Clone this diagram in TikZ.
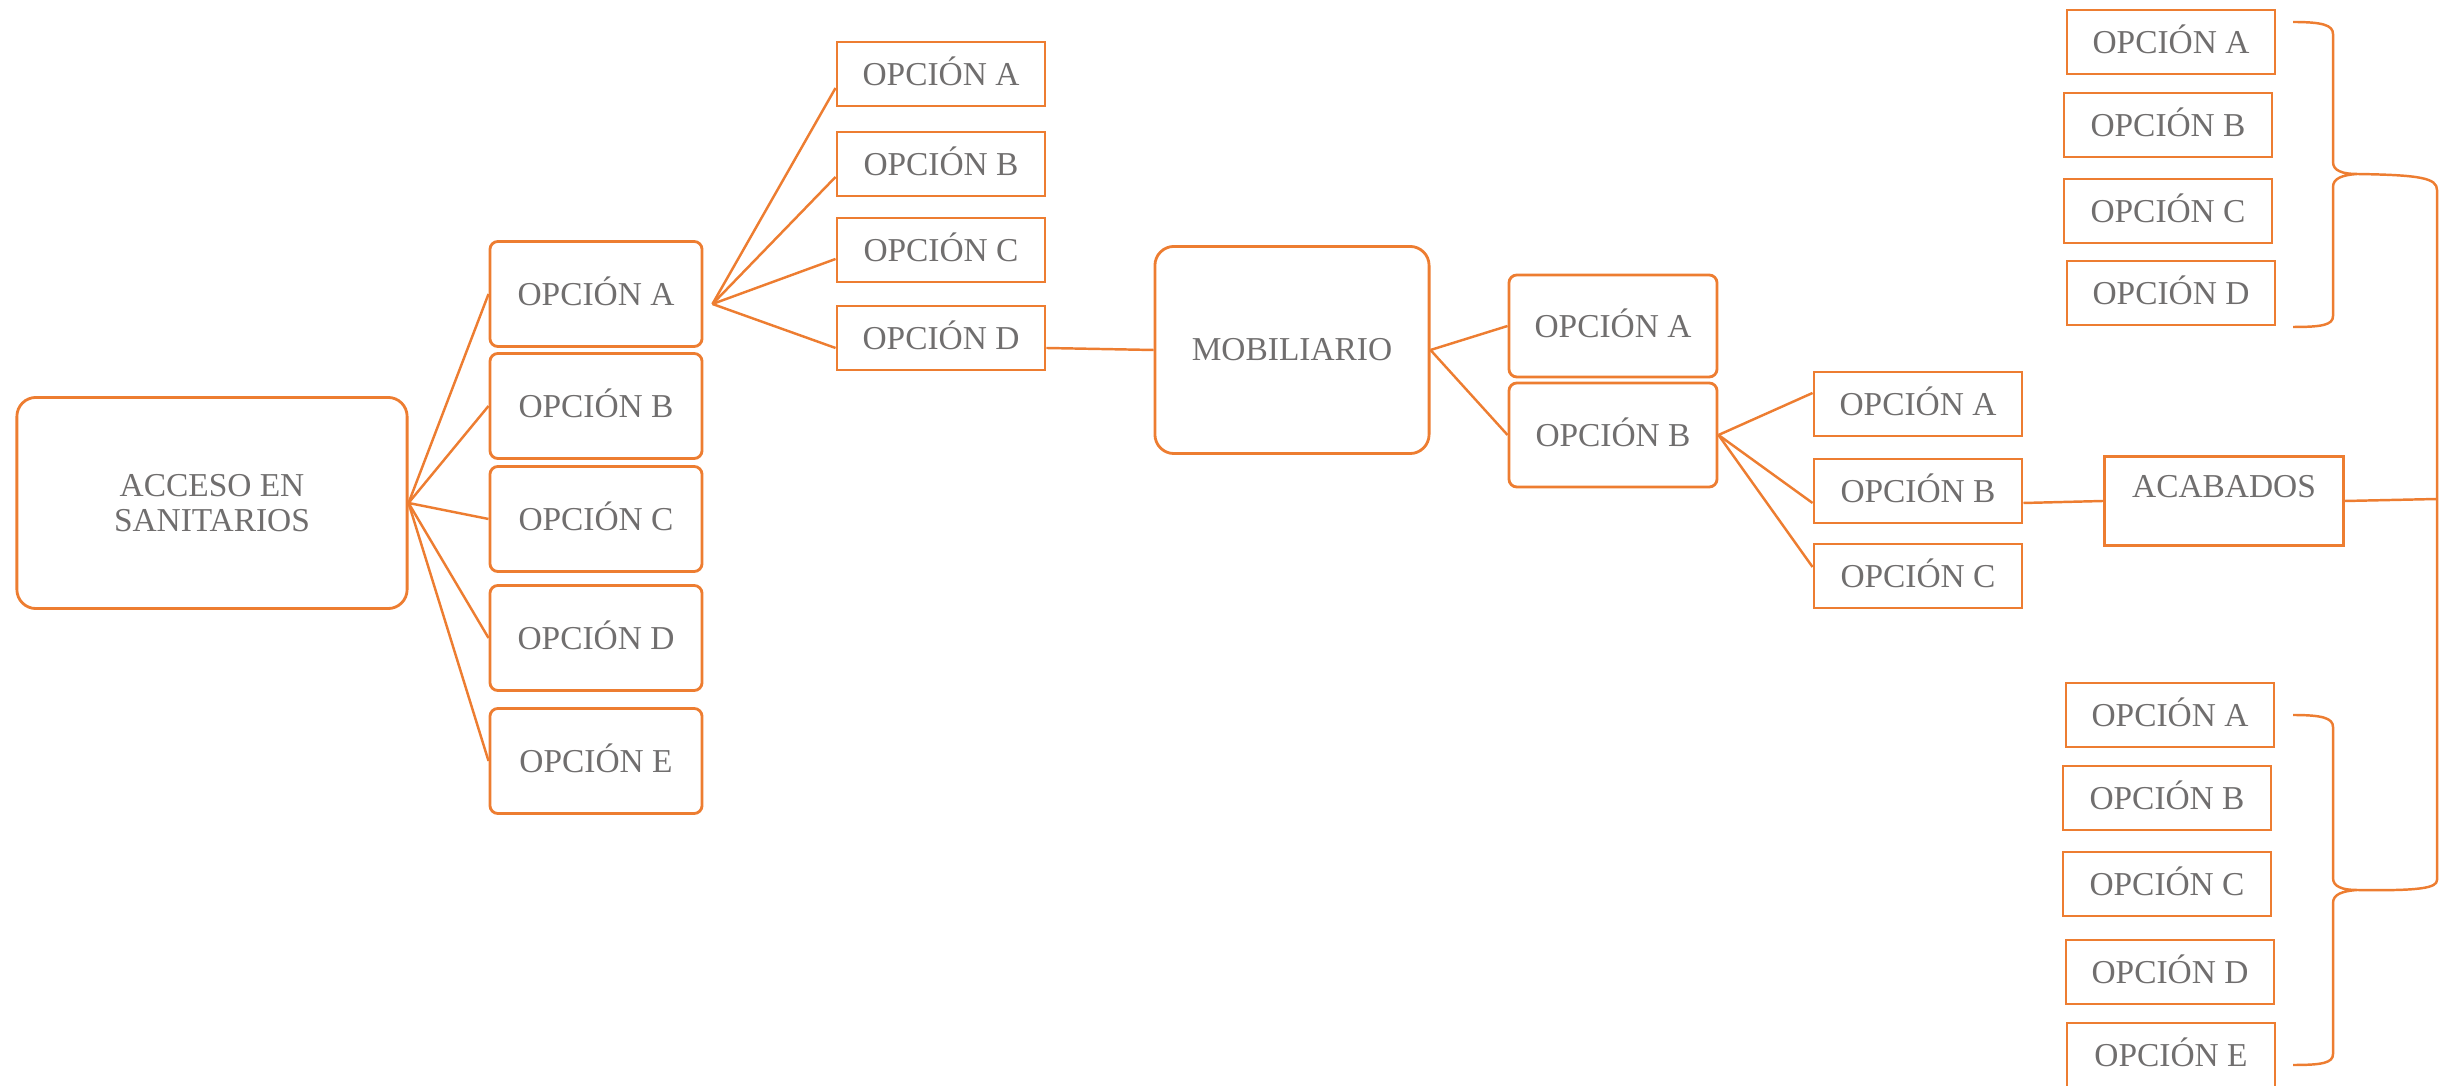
\documentclass[tikz,border=0pt]{standalone}
\usepackage{fontspec}
\setmainfont{Liberation Serif}
\usetikzlibrary{positioning}
\definecolor{accent}{RGB}{237,125,49}
\definecolor{txtgray}{RGB}{112,110,110}
\tikzset{
  link/.style={draw=accent, line width=0.7pt},
  mainbox/.style={draw=accent, line width=0.8pt, rounded corners=1.9mm, text=txtgray, align=center, inner sep=2pt},
  optround/.style={draw=accent, line width=0.8pt, rounded corners=0.8mm, text=txtgray, minimum width=2.12cm, text height=6.3pt, text depth=0pt, inner sep=2pt},
  optbox/.style={draw=accent, line width=0.8pt, text=txtgray, minimum width=2.08cm, minimum height=0.64cm, text height=6.3pt, text depth=0pt, inner sep=2pt}
}

\begin{document}
\begin{tikzpicture}[x=0.01cm, y=-0.01cm, every node/.style={font=\fontsize{9.5}{10}\selectfont}]
  \useasboundingbox (0,0) rectangle (2454,1086);
  % main topic
  \node[mainbox, minimum width=3.9cm, minimum height=2.11cm] (acceso) at (212,503) {ACCESO EN\\SANITARIOS};
  % first level
  \node[optround, minimum height=1.05cm] (a1) at (596,294) {OPCIÓN A};
  \node[optround, minimum height=1.05cm] (a2) at (596,406) {OPCIÓN B};
  \node[optround, minimum height=1.05cm] (a3) at (596,519) {OPCIÓN C};
  \node[optround, minimum height=1.05cm] (a4) at (596,638) {OPCIÓN D};
  \node[optround, minimum height=1.05cm] (a5) at (596,761) {OPCIÓN E};
  % options of A
  \node[optbox] (b1) at (941,74) {OPCIÓN A};
  \node[optbox] (b2) at (941,164) {OPCIÓN B};
  \node[optbox] (b3) at (941,250) {OPCIÓN C};
  \node[optbox] (b4) at (941,338) {OPCIÓN D};
  % mobiliario
  \node[mainbox, minimum width=2.74cm, minimum height=2.07cm] (mob) at (1292,350) {MOBILIARIO};
  \node[optround, minimum width=2.08cm, minimum height=1.02cm] (c1) at (1613,326) {OPCIÓN A};
  \node[optround, minimum width=2.08cm, minimum height=1.04cm] (c2) at (1613,435) {OPCIÓN B};
  \node[optbox] (d1) at (1918,404) {OPCIÓN A};
  \node[optbox] (d2) at (1918,491) {OPCIÓN B};
  \node[optbox] (d3) at (1918,576) {OPCIÓN C};
  % acabados
  \node[draw=accent, line width=0.8pt, text=txtgray, minimum width=2.39cm, minimum height=0.89cm, text depth=0.3cm, inner sep=2pt] (acab) at (2224,501) {ACABADOS};
  % right columns
  \node[optbox] (e1) at (2171,42) {OPCIÓN A};
  \node[optbox] (e2) at (2168,125) {OPCIÓN B};
  \node[optbox] (e3) at (2168,211) {OPCIÓN C};
  \node[optbox] (e4) at (2171,293) {OPCIÓN D};
  \node[optbox] (f1) at (2170,715) {OPCIÓN A};
  \node[optbox] (f2) at (2167,798) {OPCIÓN B};
  \node[optbox] (f3) at (2167,884) {OPCIÓN C};
  \node[optbox] (f4) at (2170,972) {OPCIÓN D};
  \node[optbox] (f5) at (2171,1055) {OPCIÓN E};

  % connectors
  \draw[link] (acceso.east) -- (a1.west);
  \draw[link] (acceso.east) -- (a2.west);
  \draw[link] (acceso.east) -- (a3.west);
  \draw[link] (acceso.east) -- (a4.west);
  \draw[link] (acceso.east) -- (a5.west);
  \coordinate (hub) at ([shift={(9,10)}]a1.east);
  \draw[link] (hub) -- ([shift={(0,14)}]b1.west);
  \draw[link] (hub) -- ([shift={(0,13)}]b2.west);
  \draw[link] (hub) -- ([shift={(0,9)}]b3.west);
  \draw[link] (hub) -- ([shift={(0,10)}]b4.west);
  \draw[link] ([shift={(0,10)}]b4.east) -- (mob.west);
  \draw[link] (mob.east) -- (c1.west);
  \draw[link] (mob.east) -- (c2.west);
  \draw[link] (c2.east) -- ([shift={(0,-11)}]d1.west);
  \draw[link] (c2.east) -- ([shift={(0,12)}]d2.west);
  \draw[link] (c2.east) -- ([shift={(0,-9)}]d3.west);
  \draw[link] ([shift={(0,12)}]d2.east) -- (acab.west);
  \coordinate (bar) at (2437,499);
  \draw[link] (acab.east) -- (bar);

  % braces
  \coordinate (tipu) at (2357,174);
  \coordinate (tipl) at (2357,890);
  \draw[link] (2293,22) .. controls (2322,22) and (2333,25) .. (2333,34) -- (2333,162)
    .. controls (2333,171) and (2343,174) .. (tipu)
    .. controls (2343,175) and (2333,178) .. (2333,187) -- (2333,316)
    .. controls (2333,325) and (2322,327) .. (2293,327);
  \draw[link] (tipu) -- ++(16,0);
  \draw[link] (2293,715) .. controls (2322,715) and (2333,718) .. (2333,727) -- (2333,878)
    .. controls (2333,887) and (2343,890) .. (tipl)
    .. controls (2343,891) and (2333,894) .. (2333,903) -- (2333,1054)
    .. controls (2333,1063) and (2322,1065) .. (2293,1065);
  \draw[link] (tipl) -- ++(16,0);
  \draw[link] (tipu) .. controls (2420,175) and (2437,178) .. (2437,190) -- (bar) -- (2437,880)
    .. controls (2437,888) and (2420,891) .. (tipl);
\end{tikzpicture}
\end{document}
